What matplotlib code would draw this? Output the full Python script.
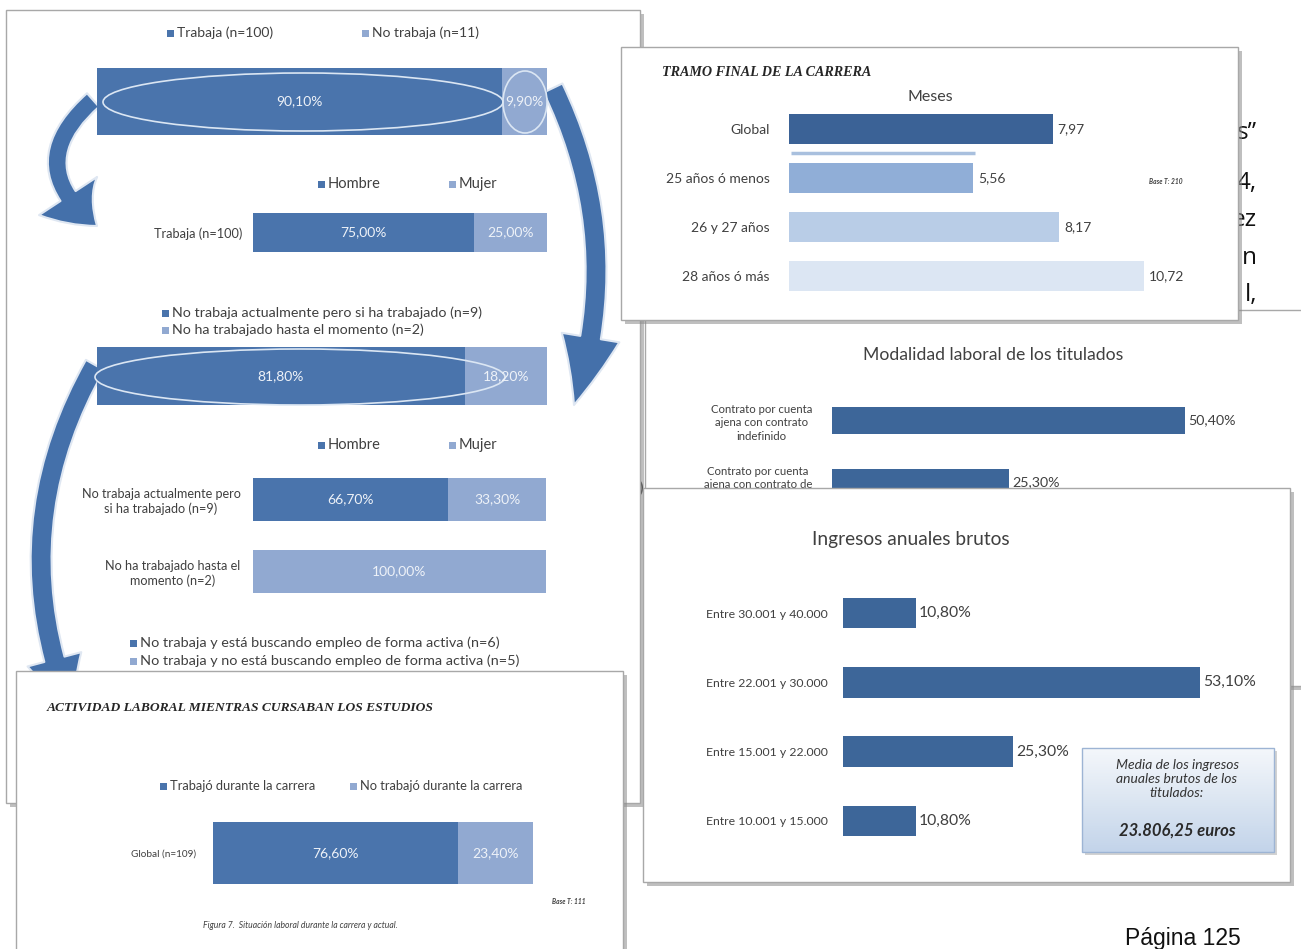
import matplotlib
matplotlib.use("Agg")
import matplotlib.pyplot as plt
from matplotlib.patches import Rectangle, Ellipse, FancyArrowPatch
from matplotlib.colors import LinearSegmentedColormap
import numpy as np

# ---------------- data ----------------
top_legend = ['Trabaja (n=100)', 'No trabaja (n=11)']
top_vals = [90.1, 9.9]

sex_legend = ['Hombre', 'Mujer']
trabaja_cats = ['Trabaja (n=100)']
trabaja_hombre = [75.0]
trabaja_mujer = [25.0]

notrab_legend = ['No trabaja actualmente pero si ha trabajado (n=9)',
                 'No ha trabajado hasta el momento (n=2)']
notrab_vals = [81.8, 18.2]
notrab_cats = ['No trabaja actualmente pero\nsi ha trabajado (n=9)',
               'No ha trabajado hasta el\nmomento (n=2)']
notrab_hombre = [66.7, 0.0]
notrab_mujer = [33.3, 100.0]

busca_legend = ['No trabaja y está buscando empleo de forma activa (n=6)',
                'No trabaja y no está buscando empleo de forma activa (n=5)']

tramo_title = 'TRAMO FINAL DE LA CARRERA'
tramo_cats = ['Global', '25 años ó menos', '26 y 27 años', '28 años ó más']
tramo_vals = [7.97, 5.56, 8.17, 10.72]

modal_title = 'Modalidad laboral de los titulados'
modal_cats = ['Contrato por cuenta\najena con contrato\nindefinido',
              'Contrato por cuenta\najena con contrato de\nduración determinada']
modal_vals = [50.4, 25.3]

ingresos_title = 'Ingresos anuales brutos'
ingresos_cats = ['Entre 30.001 y 40.000', 'Entre 22.001 y 30.000',
                 'Entre 15.001 y 22.000', 'Entre 10.001 y 15.000']
ingresos_vals = [10.8, 53.1, 25.3, 10.8]
ingresos_media = '23.806,25 euros'

act_title = 'ACTIVIDAD LABORAL MIENTRAS CURSABAN LOS ESTUDIOS'
act_legend = ['Trabajó durante la carrera', 'No trabajó durante la carrera']
act_cats = ['Global (n=109)']
act_trabajo = [76.6]
act_notrabajo = [23.4]

# ---------------- style ----------------
W, H = 1301, 949
SANS = ['Lato', 'DejaVu Sans']
SERIF = ['Liberation Serif', 'DejaVu Serif']
DARK = '#4A74AC'
LIGHT = '#91A9D1'
NAVY = '#3D6699'
TXT = '#404040'

fig = plt.figure(figsize=(W / 100, H / 100), dpi=100)
fig.patch.set_facecolor('white')


def pct(v):
    return f"{v:.2f}".replace('.', ',') + '%'


def num(v):
    return f"{v:.2f}".replace('.', ',')


def layer(z):
    ax = fig.add_axes([0, 0, 1, 1], zorder=z)
    ax.set_xlim(0, W)
    ax.set_ylim(H, 0)
    ax.axis('off')
    ax.patch.set_alpha(0)
    return ax


def chart_ax(x0, y0, x1, y1, z):
    ax = fig.add_axes([x0 / W, 1 - y1 / H, (x1 - x0) / W, (y1 - y0) / H], zorder=z)
    ax.patch.set_alpha(0)
    for s in ax.spines.values():
        s.set_visible(False)
    ax.tick_params(length=0)
    ax.set_xticks([])
    return ax


def panel(L, x0, y0, x1, y1, shadow=True):
    if shadow:
        L.add_patch(Rectangle((x0 + 4, y0 + 4), x1 - x0, y1 - y0, fc='#8c8c8c',
                              ec='none', alpha=0.55))
    L.add_patch(Rectangle((x0, y0), x1 - x0, y1 - y0, fc='white', ec='#a8a8a8', lw=1))


def legend_item(L, x, y, color, label, fs):
    L.add_patch(Rectangle((x, y - 3.5), 7, 7, fc=color, ec='none'))
    L.text(x + 10, y, label, ha='left', va='center', fontsize=fs, color=TXT, family=SANS)


def stacked(ax, series, colors, height, fs, n):
    y = np.arange(n)
    left = np.zeros(n)
    for vals, c in zip(series, colors):
        vals = np.array(vals, dtype=float)
        ax.barh(y, vals, left=left, height=height, color=c, edgecolor='none')
        for yi in range(n):
            if vals[yi] > 0:
                ax.text(left[yi] + vals[yi] / 2, yi, pct(vals[yi]), ha='center',
                        va='center', color='#EEF2F8', fontsize=fs, family=SANS)
        left = left + vals
    ax.set_xlim(0, 100)
    ax.set_ylim(n - 0.5, -0.5)


def arrow(L, a, b, rad, tw, hw, hl, color):
    p = FancyArrowPatch(a, b, connectionstyle=f"arc3,rad={rad}",
                        arrowstyle=f"simple,tail_width={tw},head_width={hw},head_length={hl}",
                        mutation_scale=10, fc=color, ec='#dfe7f2', lw=1.5,
                        shrinkA=0, shrinkB=0)
    L.add_patch(p)


# ---------------- page background text ----------------
L0 = layer(0)
for yy, s in zip([133, 183, 220, 258, 295], ['s\u201d', '4,', 'ez', 'n', 'l,']):
    L0.text(1257, yy, s, ha='right', va='center', fontsize=17.5, color='#111111',
            family=['Open Sans', 'DejaVu Sans'])
L0.text(1183, 927, 'Página 125', ha='center', va='top', fontsize=16.5, color='#111111',
        family=['Liberation Sans', 'DejaVu Sans'])
L0.text(640, 488, ')', ha='center', va='center', fontsize=14, color='#111111',
        family=['Open Sans', 'DejaVu Sans'])
L0.text(640, 637, 'l', ha='center', va='center', fontsize=17, color='#111111',
        family=['Open Sans', 'DejaVu Sans'])

# ---------------- panel A (flow) ----------------
LA = layer(1)
panel(LA, 6, 10, 640, 803)
arrow(LA, (93, 100), (97, 226), 0.6, 1.3, 5.0, 3.0, '#4470AA')
arrow(LA, (553, 88), (574, 405), -0.2, 1.5, 4.2, 5.0, '#4470AA')
arrow(LA, (95, 365), (72, 712), 0.24, 1.5, 4.0, 4.0, '#4470AA')

legend_item(LA, 167, 33, DARK, top_legend[0], 10)
legend_item(LA, 362, 33, LIGHT, top_legend[1], 10)
ax1 = chart_ax(97, 68, 547, 135, 1.5)
stacked(ax1, [[top_vals[0]], [top_vals[1]]], [DARK, LIGHT], 1.0, 10, 1)
ax1.set_yticks([])
ax1.add_patch(Ellipse((303, 102), 400, 58, fc='none', ec='#dbe6f3', lw=1.2,
                      transform=LA.transData, clip_on=False))
ax1.add_patch(Ellipse((525, 102), 44, 62, fc='none', ec='#dbe6f3', lw=1.2,
                      transform=LA.transData, clip_on=False))

legend_item(LA, 318, 184, DARK, sex_legend[0], 10.5)
legend_item(LA, 449, 184, LIGHT, sex_legend[1], 10.5)
ax2 = chart_ax(253, 213, 547, 252, 1.5)
stacked(ax2, [trabaja_hombre, trabaja_mujer], [DARK, LIGHT], 1.0, 10, 1)
ax2.set_yticks([0])
ax2.set_yticklabels(trabaja_cats, fontsize=9.2, color=TXT, family=SANS)
ax2.tick_params(axis='y', pad=8)

legend_item(LA, 162, 313, DARK, notrab_legend[0], 10.3)
legend_item(LA, 162, 330, LIGHT, notrab_legend[1], 10.3)
ax3 = chart_ax(97, 347, 547, 405, 1.5)
stacked(ax3, [[notrab_vals[0]], [notrab_vals[1]]], [DARK, LIGHT], 1.0, 10, 1)
ax3.set_yticks([])
ax3.add_patch(Ellipse((300, 377), 410, 56, fc='none', ec='#dbe6f3', lw=1.2,
                      transform=LA.transData, clip_on=False))

legend_item(LA, 318, 445, DARK, sex_legend[0], 10.5)
legend_item(LA, 449, 445, LIGHT, sex_legend[1], 10.5)
ax4 = chart_ax(253, 463.5, 546, 607.5, 1.5)
stacked(ax4, [notrab_hombre, notrab_mujer], [DARK, LIGHT], 0.6, 10, 2)
ax4.set_yticks([0, 1])
ax4.set_yticklabels(notrab_cats, fontsize=9.1, color=TXT, family=SANS, multialignment='center')
ax4.tick_params(axis='y', pad=9)

legend_item(LA, 130, 643, DARK, busca_legend[0], 10.4)
legend_item(LA, 130, 661, LIGHT, busca_legend[1], 10.4)

# ---------------- panel C (modalidad) ----------------
LC = layer(2)
panel(LC, 645, 310, 1320, 686)
LC.text(993, 355, modal_title, ha='center', va='center', fontsize=12.7, color=TXT, family=SANS)
axc = chart_ax(832, 389.5, 1252, 513.5, 2.5)
yc = np.arange(len(modal_vals))
axc.barh(yc, modal_vals, height=0.44, color=NAVY, edgecolor='none')
for yi, v in zip(yc, modal_vals):
    axc.text(v + 0.5, yi, pct(v), ha='left', va='center', fontsize=10.3, color=TXT, family=SANS)
axc.set_xlim(0, 60)
axc.set_ylim(len(modal_vals) - 0.5, -0.5)
axc.set_yticks(yc)
axc.set_yticklabels(modal_cats, fontsize=8.2, color=TXT, family=SANS, multialignment='center',
                    linespacing=1.3)
axc.tick_params(axis='y', pad=14)

# ---------------- panel B (tramo final) ----------------
LB = layer(3)
panel(LB, 621, 47, 1238, 320)
LB.text(662, 72, tramo_title, ha='left', va='center', fontsize=10.2, fontweight='bold',
        fontstyle='italic', color='#262626', family=SERIF)
LB.text(930, 97, 'Meses', ha='center', va='center', fontsize=11.5, color=TXT, family=SANS)
LB.plot([791, 975], [153, 153], color='#A9C0DE', lw=2.5, solid_capstyle='butt')
LB.text(1166, 181, 'Base T: 210', ha='center', va='center', fontsize=4.8, fontweight='bold',
        fontstyle='italic', color=TXT, family=SANS)
axb = chart_ax(789, 104.5, 1186, 300.5, 3.5)
yb = np.arange(len(tramo_vals))
tramo_colors = ['#3B6296', '#90AED7', '#B9CDE7', '#DCE6F3']
axb.barh(yb, tramo_vals, height=0.6, color=tramo_colors, edgecolor='none')
for yi, v in zip(yb, tramo_vals):
    axb.text(v + 0.15, yi, num(v), ha='left', va='center', fontsize=10, color=TXT, family=SANS)
axb.set_xlim(0, 12)
axb.set_ylim(len(tramo_vals) - 0.5, -0.5)
axb.set_yticks(yb)
axb.set_yticklabels(tramo_cats, fontsize=10, color=TXT, family=SANS)
axb.tick_params(axis='y', pad=14)

# ---------------- panel D (ingresos) ----------------
LD = layer(4)
panel(LD, 643, 488, 1290, 882)
LD.text(911, 540, ingresos_title, ha='center', va='center', fontsize=13.8, color=TXT, family=SANS)
axd = chart_ax(843, 578.5, 1246, 855.5, 4.5)
yd = np.arange(len(ingresos_vals))
axd.barh(yd, ingresos_vals, height=0.44, color=NAVY, edgecolor='none')
for yi, v in zip(yd, ingresos_vals):
    axd.text(v + 0.5, yi, pct(v), ha='left', va='center', fontsize=11.3, color=TXT, family=SANS)
axd.set_xlim(0, 60)
axd.set_ylim(len(ingresos_vals) - 0.5, -0.5)
axd.set_yticks(yd)
axd.set_yticklabels(ingresos_cats, fontsize=8.8, color=TXT, family=SANS)
axd.tick_params(axis='y', pad=11)

# media box
LD.add_patch(Rectangle((1085, 751), 192, 104, fc='#b5b5b5', ec='none', alpha=0.6))
grad = np.linspace(0, 1, 64).reshape(-1, 1)
cmap = LinearSegmentedColormap.from_list('g', ['#F4F7FB', '#DCE6F2', '#C3D4EA'])
LD.imshow(grad, extent=(1082, 1274, 852, 748), cmap=cmap, aspect='auto', zorder=3,
          interpolation='bilinear')
LD.add_patch(Rectangle((1082, 748), 192, 104, fc='none', ec='#9DB4D4', lw=1, zorder=4))
LD.text(1177, 779, 'Media de los ingresos\nanuales brutos de los\ntitulados:', ha='center',
        va='center', fontsize=10, fontstyle='italic', color='#333333', family=SANS,
        linespacing=1.2, zorder=5)
LD.text(1177, 831, ingresos_media, ha='center', va='center', fontsize=12, fontweight='bold',
        fontstyle='italic', color='#2a2a2a', family=SANS, zorder=5)
LD.set_xlim(0, W)
LD.set_ylim(H, 0)

# ---------------- panel E (actividad) ----------------
LE = layer(5)
panel(LE, 16, 671, 623, 975)
LE.text(47, 708, act_title, ha='left', va='center', fontsize=9.7, fontweight='bold',
        fontstyle='italic', color='#262626', family=SERIF)
legend_item(LE, 160, 786, DARK, act_legend[0], 9.3)
legend_item(LE, 350, 786, LIGHT, act_legend[1], 9.3)
axe = chart_ax(213, 822, 533, 884, 5.5)
stacked(axe, [act_trabajo, act_notrabajo], [DARK, LIGHT], 1.0, 10, 1)
axe.set_yticks([0])
axe.set_yticklabels(act_cats, fontsize=7.2, color=TXT, family=SANS)
axe.tick_params(axis='y', pad=12)
LE.text(586, 901, 'Base T: 111', ha='right', va='center', fontsize=4.8, fontweight='bold',
        fontstyle='italic', color=TXT, family=SANS)
LE.text(300, 925, 'Figura 7.  Situación laboral durante la carrera y actual.', ha='center',
        va='center', fontsize=6.2, fontstyle='italic', color=TXT, family=SANS)

fig.savefig('out.png', dpi=100, facecolor='white')
